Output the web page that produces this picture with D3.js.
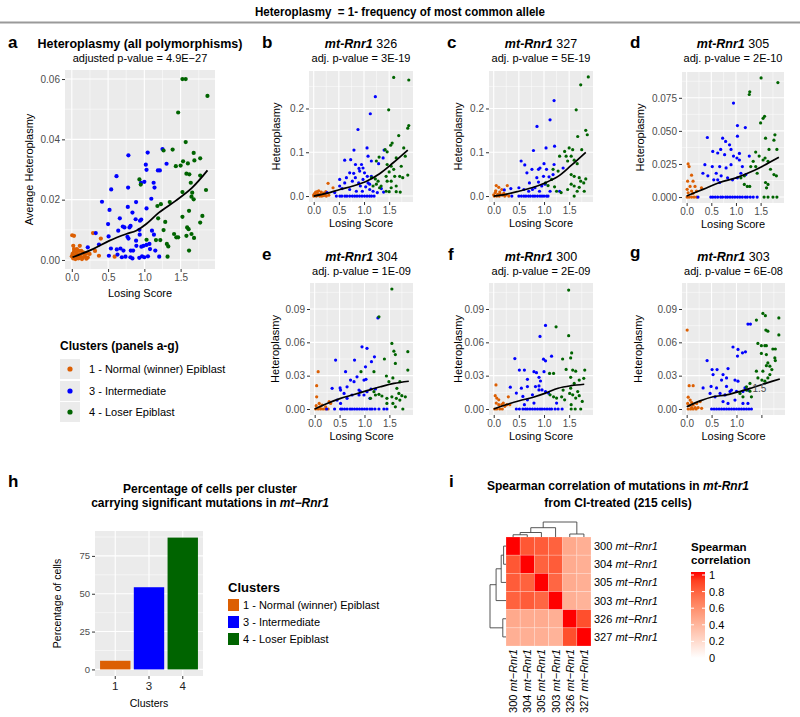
<!DOCTYPE html>
<html>
<head>
<meta charset="utf-8">
<script src="https://cdn.jsdelivr.net/npm/d3@7"></script>
<style>
  body { margin: 0; background: #fff; }
  text { font-family: "Liberation Sans", Arial, sans-serif; }
</style>
</head>
<body>
<script>
// ---- data ----
const clusterNames = ["1 - Normal (winner) Epiblast", "3 - Intermediate", "4 - Loser Epiblast"];
const clusterColors = ["#DC5F03", "#0000FF", "#006400"];

// panel a : all polymorphisms  [losing score, heteroplasmy]
const aOrange = [[0.005,.0082],[0.03,.008],[0.292,.0089],[0.4,.0071],[0.02,.0047],[0.11,.0047],[0.03,.0036],[0.07,.0036],[0.1,.003],[0.13,.003],[0.155,.0025],[0.2,.0022],[0.245,.002],[0.374,.0014],[0.59,.0011],[0.32,.003],[0.01,.002],[0.04,.0015],[0.06,.001],[0.08,.0018],[0.12,.0012],[0.15,.0008],[0.18,.0012],[0.22,.0008],[0.02,.0005],[0.05,.0003],[0.09,.0005],[0.14,.0003],[0.0,.0012],[0.06,.0025],[0.1,.0016],[0.17,.002],[0.03,.0028],[0.2,.0004]];
const aBlue = [[0.78,.0347],[1.046,.0356],[1.25,.0368],[1.306,.0319],[1.02,.0316],[1.03,.0299],[1.187,.0297],[1.214,.0297],[0.616,.0278],[0.543,.0234],[0.776,.024],[0.954,.0256],[1.0,.0259],[1.128,.0256],[1.14,.024],[0.416,.0193],[1.096,.0203],[0.52,.0166],[0.772,.0176],[0.886,.0192],[0.836,.0157],[1.03,.0171],[0.662,.0138],[0.88,.0135],[0.94,.013],[0.957,.0134],[0.5,.0119],[0.703,.0111],[0.726,.0108],[0.795,.0108],[0.81,.0113],[0.64,.0097],[0.932,.01],[1.105,.0097],[1.132,.0084],[0.33,.0089],[0.507,.0078],[0.767,.0077],[0.781,.0071],[0.936,.0084],[0.886,.0064],[0.99,.0047],[1.03,.005],[1.07,.0053],[0.959,.0044],[1.078,.0036],[0.374,.0051],[0.539,.0038],[0.62,.0035],[0.671,.0038],[0.712,.0031],[0.813,.0031],[0.845,.0031],[0.89,.0047],[1.151,.0031],[0.511,.0014],[0.63,.0018],[0.69,.0009],[0.74,.0011],[0.808,.0009],[0.836,.0005],[0.93,.0007],[0.968,.0012],[1.0,.0009],[1.05,.0012],[1.205,.0011],[0.22,.0042]];
const aGreen = [[1.525,.060],[1.57,.060],[1.87,.0544],[1.466,.0489],[1.57,.0391],[1.265,.0363],[1.39,.0366],[1.68,.0355],[1.534,.0327],[1.6,.032],[1.5,.0313],[1.434,.0311],[1.69,.033],[1.77,.0337],[1.58,.0286],[1.62,.0284],[1.77,.028],[0.932,.0267],[0.95,.025],[1.64,.0256],[1.85,.0232],[1.525,.0225],[1.66,.0223],[1.65,.021],[1.68,.0201],[1.228,.0185],[1.18,.0179],[1.35,.0192],[1.616,.0163],[1.8,.0146],[1.19,.0138],[1.288,.0126],[1.525,.0143],[1.77,.0124],[1.59,.0108],[1.61,.0102],[1.265,.0099],[1.41,.0086],[1.44,.0075],[1.466,.0075],[1.58,.008],[1.65,.0086],[1.685,.0073],[1.03,.0067],[1.16,.0066],[1.22,.0066],[1.31,.0053],[1.33,.0045],[1.616,.0031],[1.32,.0011]];
const aFit = [[0.01,.0009],[0.29,.0036],[0.52,.0064],[0.75,.0086],[0.886,.0097],[1.03,.012],[1.2,.0157],[1.43,.0196],[1.66,.024],[1.87,.0297]];

// panel b : mt-Rnr1 326
const bOrange = [[0.04,.009],[0.07,.01],[0.1,.012],[0.15,.009],[0.2,.007],[0.24,.01],[0.285,.029],[0.384,.019],[0.0,.003],[0.03,.002],[0.06,.001],[0.09,.002],[0.12,0],[0.16,0],[0.2,.001],[0.25,0],[0.3,.002],[0.02,.006],[0.13,.004],[0.18,.003],[0.0,0],[0.05,0],[0.08,.005],[0.22,.004]];
const bBlue = [[1.225,.227],[1.125,.188],[0.88,.152],[1.06,.11],[0.8,.105],[0.616,.082],[0.735,.083],[1.08,.091],[1.4,.105],[1.38,.087],[0.83,.072],[0.98,.064],[0.9,.063],[1.146,.08],[0.95,.072],[1.29,.074],[0.715,.053],[0.795,.052],[0.914,.057],[1.01,.053],[1.066,.045],[1.146,.045],[0.516,.038],[0.65,.042],[0.828,.042],[0.616,.03],[0.768,.034],[0.894,.03],[0.98,.038],[1.08,.03],[0.927,.023],[1.033,.021],[1.113,.027],[0.516,.023],[0.563,.017],[0.715,.015],[0.848,.011],[0.967,.011],[1.113,.015],[1.18,.011],[1.344,.017],[1.265,.008],[1.39,.009],[0.417,.008],[0.265,.008],[0.52,0],[0.56,0],[0.62,0],[0.66,0],[0.715,0],[0.768,0],[0.815,0],[0.86,0],[0.91,0],[0.96,0],[1.01,0],[1.06,0],[1.11,0],[1.15,0],[1.2,0],[0.45,0]];
const bGreen = [[1.59,.271],[1.89,.265],[1.49,.197],[1.89,.161],[1.87,.155],[1.69,.138],[1.56,.121],[1.53,.116],[1.42,.106],[1.46,.101],[1.79,.11],[1.82,.091],[1.245,.08],[1.3,.089],[1.64,.087],[1.59,.061],[1.54,.068],[1.46,.072],[1.74,.068],[1.87,.048],[1.71,.045],[1.77,.042],[1.61,.045],[1.54,.034],[1.64,.023],[1.46,.034],[1.225,.039],[1.28,.034],[1.18,.023],[1.245,.027],[1.31,.019],[1.44,.011],[1.5,.01],[1.64,.01],[1.72,.009],[1.54,.019],[1.34,.023],[1.44,.045],[1.5,.055],[1.15,.042]];
const bFit = [[0,0],[0.25,.006],[0.52,.015],[0.78,.023],[1.05,.034],[1.31,.051],[1.58,.076],[1.87,.105]];

// panel c : mt-Rnr1 327
const cOrange = [[0.05,.024],[0.1,.02],[0.16,.015],[0.27,.024],[0.03,.008],[0.08,.004],[0.13,.004],[0.17,.002],[0.22,0],[0.01,0],[0.06,0],[0.11,0],[0.3,0],[0.04,.012],[0.12,.009],[0.2,.006],[0.25,.003],[0.0,.003]];
const cBlue = [[1.2,.218],[1.12,.174],[0.86,.159],[1.04,.11],[0.79,.104],[1.21,.114],[0.545,.08],[0.617,.071],[0.66,.053],[0.76,.061],[0.92,.064],[0.89,.061],[1.0,.074],[1.05,.061],[1.2,.072],[1.38,.064],[0.857,.042],[0.99,.045],[1.1,.044],[1.18,.049],[0.71,.03],[0.89,.032],[1.02,.027],[0.5,.019],[0.82,.019],[0.955,.023],[0.6,.015],[0.695,.011],[0.77,.015],[0.91,.011],[1.12,.011],[1.31,.011],[0.34,.017],[0.21,.014],[0.5,0],[0.55,0],[0.6,0],[0.64,0],[0.69,0],[0.73,0],[0.78,0],[0.82,0],[0.87,0],[0.92,0],[0.96,0],[1.0,0],[1.05,0],[1.08,0],[0.36,0]];
const cGreen = [[1.88,.272],[1.73,.254],[1.64,.197],[1.83,.15],[1.86,.14],[1.67,.136],[1.5,.11],[1.57,.106],[1.41,.102],[1.75,.106],[1.31,.091],[1.44,.091],[1.54,.091],[1.47,.08],[1.6,.082],[1.66,.074],[1.18,.061],[1.28,.057],[1.54,.049],[1.6,.045],[1.7,.042],[1.83,.039],[1.73,.034],[1.79,.03],[1.15,.038],[1.03,.03],[1.08,.024],[1.21,.021],[1.25,.011],[1.47,.015],[1.6,.023],[1.54,.027],[1.7,.02],[1.6,0],[1.34,.008],[1.8,.011],[1.66,.011]];
const cFit = [[0,0],[0.24,.004],[0.5,.011],[0.76,.019],[1.02,.03],[1.28,.045],[1.54,.07],[1.83,.1]];

// panel d : mt-Rnr1 305
const dOrange = [[0.03,.025],[0.05,.023],[0.1,.0165],[0.02,.012],[0.13,.012],[0.07,.008],[0.17,.008],[0.3,.007],[0.01,.0058],[0.1,.0045],[0.2,.0045],[0.03,.0032],[0.13,.0028],[0.01,0],[0.05,0],[0.1,0],[0.15,0],[0.2,0]];
const dBlue = [[0.95,.071],[1.03,.054],[1.19,.0525],[0.73,.0445],[0.42,.045],[0.79,.042],[1.03,.046],[0.87,.0395],[0.69,.036],[0.9,.036],[0.53,.0345],[0.63,.0333],[0.77,.032],[1.07,.033],[0.95,.031],[1.02,.0295],[1.07,.028],[1.27,.031],[0.37,.0245],[0.52,.023],[0.67,.023],[0.8,.022],[0.9,.0245],[1.13,.023],[0.33,.018],[0.43,.016],[0.6,.018],[0.63,.013],[0.7,.016],[0.83,.0145],[0.93,.013],[1.03,.0145],[1.1,.018],[1.2,.017],[0.55,.013],[0.67,.011],[0.49,0],[0.53,0],[0.58,0],[0.63,0],[0.69,0],[0.73,0],[0.79,0],[0.83,0],[0.88,0],[0.93,0],[0.98,0],[1.03,0],[1.08,0],[1.13,0],[1.19,0],[1.23,0],[1.29,0],[1.35,0],[1.43,0],[0.23,0]];
const dGreen = [[1.51,.09],[1.85,.0865],[1.28,.0795],[1.27,.0775],[1.58,.061],[1.55,.0595],[1.5,.056],[1.79,.047],[1.77,.043],[1.6,.0445],[1.67,.036],[1.83,.036],[1.4,.034],[1.47,.031],[1.55,.028],[1.65,.027],[1.59,.0295],[1.35,.027],[1.3,.023],[1.4,.023],[1.7,.021],[1.77,.017],[1.82,.016],[1.43,.018],[1.17,.0095],[1.23,.008],[1.28,.008],[1.6,.011],[1.65,.0095],[1.62,.007],[1.57,0],[1.75,0],[1.65,0],[1.83,0],[1.1,.0145],[1.17,.016]];
const dFit = [[0,.0008],[0.33,.0058],[0.67,.011],[1.0,.0145],[1.33,.0195],[1.6,.0245],[1.87,.03]];

// panel e : mt-Rnr1 304
const eOrange = [[0.07,.0336],[0.04,.021],[0.04,.011],[0.09,.005],[0.15,.0036],[0.22,.002],[0.29,.0066],[0.32,.005],[0.02,0],[0.07,0],[0.12,0],[0.17,0],[0.22,0],[0.27,0],[0.03,.003],[0.11,.002]];
const eBlue = [[1.27,.082],[0.95,.056],[1.05,.0546],[1.2,.047],[1.14,.0426],[0.42,.044],[0.8,.044],[1.02,.038],[0.99,.026],[1.03,.0267],[0.62,.0336],[0.85,.029],[0.72,.026],[0.79,.0246],[0.65,.02],[0.51,.019],[0.52,.017],[0.35,.0186],[0.89,.017],[0.92,.0156],[1.13,.018],[1.22,.018],[0.59,.014],[0.75,.0126],[0.89,.0126],[0.99,.0126],[1.05,.0156],[1.11,.0096],[0.45,.008],[0.52,.005],[0.65,.0096],[0.24,0],[0.4,0],[0.52,0],[0.55,0],[0.6,0],[0.65,0],[0.71,0],[0.75,0],[0.8,0],[0.85,0],[0.9,0],[0.95,0],[1.0,0],[1.05,0],[1.11,0],[1.15,0],[1.21,0],[1.29,0],[1.39,0],[1.45,0]];
const eGreen = [[1.55,.108],[1.29,.083],[1.55,.059],[1.59,.052],[1.62,.049],[1.4,.045],[1.62,.041],[1.87,.0516],[0.93,.0336],[1.19,.0336],[1.44,.0297],[1.57,.028],[1.71,.0246],[1.49,.0246],[1.87,.035],[1.65,.0186],[1.69,.014],[1.75,.012],[1.82,.011],[1.19,.0156],[1.22,.0126],[1.29,.0132],[1.35,.0117],[1.12,.0096],[1.45,.0096],[1.55,.011],[1.64,.0096],[1.71,.008],[1.45,.005],[1.57,.005],[1.77,0],[1.62,.002]];
const eFit = [[0,0],[0.25,.005],[0.52,.0096],[0.79,.013],[1.05,.0165],[1.32,.02],[1.59,.023],[1.89,.025]];

// panel f : mt-Rnr1 300
const fOrange = [[0.045,.0217],[0.03,.012],[0.06,.0098],[0.1,.0083],[0.29,.011],[0.05,.0053],[0.1,.0039],[0.16,.0039],[0.19,.0053],[0.22,.0024],[0.26,.0039],[0.32,.0039],[0.02,0],[0.06,0],[0.12,0],[0.17,0]];
const fBlue = [[1.03,.0752],[0.92,.0653],[0.42,.0454],[0.99,.0448],[1.03,.0434],[1.15,.0475],[0.51,.035],[0.61,.035],[0.8,.0336],[0.85,.0327],[1.0,.0336],[0.67,.0267],[0.9,.0285],[0.93,.0252],[0.33,.0196],[0.55,.0187],[0.67,.0202],[0.83,.0202],[0.9,.0208],[0.45,.0143],[0.58,.0113],[0.77,.0128],[0.9,.0172],[0.96,.0172],[1.03,.0157],[1.09,.0143],[0.67,.0083],[0.8,.0053],[0.61,.0039],[1.25,.0053],[0.45,0],[0.51,0],[0.58,0],[0.63,0],[0.67,0],[0.72,0],[0.77,0],[0.82,0],[0.87,0],[0.92,0],[0.96,0],[1.01,0],[1.06,0],[1.11,0],[1.15,0],[1.22,0],[1.28,0],[1.36,0]];
const fGreen = [[1.49,.107],[1.24,.074],[1.49,.066],[1.55,.0505],[1.53,.046],[1.37,.045],[1.44,.0356],[1.57,.035],[1.81,.035],[1.63,.034],[1.19,.032],[1.11,.032],[1.53,.0285],[1.7,.026],[1.79,.0276],[1.6,.023],[1.53,.0187],[1.38,.017],[1.51,.014],[1.67,.0157],[1.12,.0128],[1.19,.011],[1.25,.0098],[1.35,.011],[1.41,.0083],[1.57,.0128],[1.63,.0098],[1.7,.012],[1.76,.0068],[1.54,.0039],[1.62,0],[1.73,0],[1.54,0]];
const fFit = [[0,0],[0.26,.004],[0.51,.0074],[0.77,.0104],[1.03,.0143],[1.28,.0187],[1.54,.021],[1.8,.0223]];

// panel g : mt-Rnr1 303
const gOrange = [[0.01,.071],[0.05,.021],[0.13,.021],[0.03,.0106],[0.07,.008],[0.1,.0058],[0.13,.0036],[0.2,.005],[0.27,.0067],[0.02,.005],[0.05,.003],[0.1,.0012],[0.17,.0012],[0.23,.0012],[0.3,.0006],[0.03,0],[0.08,0],[0.13,0],[0.19,0]];
const gBlue = [[1.23,.0764],[1.28,.0764],[0.93,.0558],[1.03,.0536],[1.12,.0506],[1.18,.0515],[1.02,.0476],[0.41,.0436],[0.51,.0355],[0.61,.0355],[0.83,.0364],[0.53,.031],[0.73,.031],[0.8,.028],[0.7,.026],[0.97,.026],[1.03,.025],[0.33,.019],[0.49,.0203],[0.6,.019],[0.8,.0203],[0.9,.017],[0.47,.014],[0.57,.011],[0.67,.014],[0.77,.0127],[0.87,.0158],[1.0,.0158],[1.13,.0158],[1.17,.019],[1.23,.017],[0.73,.0067],[0.97,.008],[1.13,.005],[1.23,.005],[0.83,.005],[0.5,0],[0.55,0],[0.6,0],[0.65,0],[0.7,0],[0.75,0],[0.8,0],[0.85,0],[0.9,0],[0.95,0],[1.0,0],[1.05,0],[1.1,0],[1.15,0],[1.2,0],[1.25,0],[1.3,0]];
const gGreen = [[1.53,.086],[1.58,.084],[1.4,.08],[1.85,.082],[1.59,.071],[1.63,.070],[1.85,.0667],[1.43,.059],[1.5,.057],[1.57,.057],[1.6,.057],[1.73,.054],[1.78,.054],[1.5,.05],[1.6,.049],[1.77,.046],[1.78,.0436],[1.63,.0415],[1.6,.039],[1.67,.0385],[1.71,.0355],[1.4,.034],[1.53,.034],[1.67,.031],[1.43,.028],[1.51,.026],[1.57,.025],[1.63,.028],[1.27,.023],[1.2,.020],[1.2,.017],[1.27,.016],[1.3,.011],[1.07,.014],[1.13,.011]];
const gFit = [[0,.002],[0.27,.0073],[0.53,.011],[0.8,.0127],[1.07,.0158],[1.33,.0194],[1.6,.0233],[1.87,.027]];

const xTicks = [0, 0.5, 1, 1.5];

// panel h
const barClusters = ["1", "3", "4"];
const barPct = [5.7, 54.3, 87.1];
const barTicks = [0, 25, 50, 75];

// panel i
const corrLabels = ["300", "304", "305", "303", "326", "327"];
const corrMatrix = [
  [1.00, 0.82, 0.80, 0.78, 0.45, 0.42],
  [0.82, 1.00, 0.78, 0.80, 0.44, 0.42],
  [0.80, 0.78, 1.00, 0.76, 0.44, 0.42],
  [0.78, 0.80, 0.76, 1.00, 0.42, 0.40],
  [0.45, 0.44, 0.44, 0.42, 1.00, 0.85],
  [0.42, 0.42, 0.42, 0.40, 0.85, 1.00]
];
const corrTree = {h: 1, c: [{h: 0.62, c: [{h: 0.3, c: [{h: 0.15, c: ["300", "304"]}, "305"]}, "303"]}, {h: 0.2, c: ["326", "327"]}]};
const corrTicks = [0, 0.2, 0.4, 0.6, 0.8, 1];

// ---- drawing ----
const svg = d3.select("body").append("svg").attr("width", 800).attr("height", 717);
const TXT = "#4d4d4d";

function richText(x, y, parts, size, anchor) {
  const t = svg.append("text").attr("x", x).attr("y", y)
    .attr("font-size", size).attr("text-anchor", anchor || "middle");
  parts.forEach(p => t.append("tspan").text(p.t)
    .attr("font-weight", p.b ? "bold" : "normal")
    .attr("font-style", p.i ? "italic" : "normal"));
  return t;
}
function plain(x, y, s, size, opts) {
  opts = opts || {};
  return svg.append("text").attr("x", x).attr("y", y).text(s)
    .attr("font-size", size).attr("text-anchor", opts.anchor || "start")
    .attr("font-weight", opts.bold ? "bold" : "normal")
    .attr("fill", opts.fill || "#000");
}

// header
plain(400, 16, "Heteroplasmy  = 1- frequency of most common allele", 13, {anchor: "middle", bold: true})
  .style("white-space", "pre").attr("textLength", 290).attr("lengthAdjust", "spacingAndGlyphs");
svg.append("line").attr("x1", 0).attr("x2", 800).attr("y1", 22.5).attr("y2", 22.5)
  .attr("stroke", "#9a9a9a").attr("stroke-width", 2);

const row1 = {top: 71, bottom: 202, tY: 48, sY: 62};
const row2 = {top: 283, bottom: 415, tY: 261, sY: 275};
const rnr = (n) => [{t: "mt-Rnr1", b: true, i: true}, {t: " " + n}];

const scatterPanels = [
  {lab: "a", lx: 8, ly: 48, pts: [aOrange, aBlue, aGreen], fit: aFit, left: 65, right: 215, top: 70, bottom: 269, tY: 48, sY: 62,
   title: [{t: "Heteroplasmy (all polymorphisms)", b: true}], sub: "adjusted p-value = 4.9E\u221227",
   yMax: 0.06, yTicks: [0, 0.02, 0.04, 0.06], fmt: ".2f", yTitle: "Average Heteroplasmy", yTx: 33, r: 2.1, lw: 1.8, xTitleOff: 28},
  {lab: "b", lx: 262, ly: 48, pts: [bOrange, bBlue, bGreen], fit: bFit, left: 309, right: 413, ...row1,
   title: rnr(326), sub: "adj. p-value = 3E-19", yMax: 0.272, yTicks: [0, 0.1, 0.2], fmt: ".1f", yTitle: "Heteroplasmy", yTx: 280},
  {lab: "c", lx: 447, ly: 48, pts: [cOrange, cBlue, cGreen], fit: cFit, left: 489, right: 593, ...row1,
   title: rnr(327), sub: "adj. p-value = 5E-19", yMax: 0.272, yTicks: [0, 0.1, 0.2], fmt: ".1f", yTitle: "Heteroplasmy", yTx: 462},
  {lab: "d", lx: 630, ly: 48, pts: [dOrange, dBlue, dGreen], fit: dFit, left: 682, right: 784, top: 72, bottom: 203, tY: 48, sY: 62,
   title: rnr(305), sub: "adj. p-value = 2E-10", yMax: 0.09, yTicks: [0, 0.025, 0.05, 0.075], fmt: ".3f", yTitle: "Heteroplasmy", yTx: 644},
  {lab: "e", lx: 262, ly: 260, pts: [eOrange, eBlue, eGreen], fit: eFit, left: 310, right: 413, ...row2,
   title: rnr(304), sub: "adj. p-value = 1E-09", yMax: 0.108, yTicks: [0, 0.03, 0.06, 0.09], fmt: ".2f", yTitle: "Heteroplasmy", yTx: 279},
  {lab: "f", lx: 448, ly: 260, pts: [fOrange, fBlue, fGreen], fit: fFit, left: 489, right: 593, ...row2,
   title: rnr(300), sub: "adj. p-value = 2E-09", yMax: 0.108, yTicks: [0, 0.03, 0.06, 0.09], fmt: ".2f", yTitle: "Heteroplasmy", yTx: 462},
  {lab: "g", lx: 630, ly: 258, pts: [gOrange, gBlue, gGreen], fit: gFit, left: 682, right: 785, ...row2,
   title: rnr(303), sub: "adj. p-value = 6E-08", yMax: 0.108, yTicks: [0, 0.03, 0.06, 0.09], fmt: ".2f", yTitle: "Heteroplasmy", yTx: 642,
   hideX: [1.5]}
];

function drawScatter(p) {
  const x = d3.scaleLinear().domain([-0.094, 1.974]).range([p.left, p.right]);
  const y = d3.scaleLinear().domain([-0.05 * p.yMax, 1.05 * p.yMax]).range([p.bottom, p.top]);
  const g = svg.append("g");
  g.append("rect").attr("x", p.left).attr("y", p.top)
    .attr("width", p.right - p.left).attr("height", p.bottom - p.top).attr("fill", "#ebebeb");

  const step = p.yTicks[1] - p.yTicks[0];
  const yMinor = p.yTicks.map(t => t + step / 2).filter(t => t < y.domain()[1]);
  const xMinor = xTicks.map(t => t + 0.25).filter(t => t < x.domain()[1]);
  const grid = (vals, w, horiz) => g.selectAll(null).data(vals).join("line")
    .attr("x1", d => horiz ? p.left : x(d)).attr("x2", d => horiz ? p.right : x(d))
    .attr("y1", d => horiz ? y(d) : p.top).attr("y2", d => horiz ? y(d) : p.bottom)
    .attr("stroke", "#fff").attr("stroke-width", w);
  grid(yMinor, 0.5, true); grid(xMinor, 0.5, false);
  grid(p.yTicks, 1.1, true); grid(xTicks, 1.1, false);

  p.pts.forEach((arr, i) => {
    g.selectAll(null).data(arr).join("circle")
      .attr("cx", d => x(d[0])).attr("cy", d => y(d[1]))
      .attr("r", p.r || 1.6).attr("fill", clusterColors[i]);
  });
  g.append("path").datum(p.fit)
    .attr("d", d3.line().x(d => x(d[0])).y(d => y(d[1])).curve(d3.curveCatmullRom))
    .attr("fill", "none").attr("stroke", "#000").attr("stroke-width", p.lw || 1.7);

  const ya = g.append("g").attr("transform", `translate(${p.left},0)`)
    .call(d3.axisLeft(y).tickValues(p.yTicks).tickFormat(d3.format(p.fmt)).tickSize(3).tickPadding(2));
  const hide = p.hideX || [];
  const xa = g.append("g").attr("transform", `translate(0,${p.bottom})`)
    .call(d3.axisBottom(x).tickValues(xTicks).tickFormat(d => hide.includes(d) ? "" : d3.format(".1f")(d)).tickSize(3).tickPadding(2));
  [ya, xa].forEach(a => {
    a.select(".domain").remove();
    a.selectAll(".tick line").attr("stroke", "#333");
    a.selectAll(".tick text").attr("fill", TXT).attr("font-size", 10);
  });
  if (hide.length) {
    // the 1.5 label sits inside the panel in the original figure
    plain(x(1.5) - 2, y(0.0153), "1.5", 10, {anchor: "middle", fill: TXT});
  }

  plain(p.lx, p.ly, p.lab, 17, {bold: true});
  richText((p.left + p.right) / 2, p.tY, p.title, 12.5);
  plain((p.left + p.right) / 2, p.sY, p.sub, 11, {anchor: "middle"});
  plain((p.left + p.right) / 2, p.bottom + (p.xTitleOff || 25), "Losing Score", 11, {anchor: "middle"});
  svg.append("text").attr("transform", `translate(${p.yTx},${(p.top + p.bottom) / 2}) rotate(-90)`)
    .attr("text-anchor", "middle").attr("font-size", 11).text(p.yTitle);
}
scatterPanels.forEach(drawScatter);

// legend for panels a-g
plain(60, 350, "Clusters (panels a-g)", 12, {bold: true});
const legY = [369, 391, 412];
clusterNames.forEach((n, i) => {
  svg.append("rect").attr("x", 60).attr("y", legY[i] - 10).attr("width", 20).attr("height", 20).attr("fill", "#ebebeb");
  svg.append("circle").attr("cx", 70).attr("cy", legY[i]).attr("r", 2.6).attr("fill", clusterColors[i]);
  plain(89, legY[i] + 4, n, 11);
});

// ---- panel h ----
{
  const L = 95, R = 203, T = 531, B = 676;
  const x = d3.scaleBand().domain(barClusters).range([L, R]).paddingInner(0.1).paddingOuter(0.15);
  const y = d3.scaleLinear().domain([-0.05 * d3.max(barPct), 1.05 * d3.max(barPct)]).range([B, T]);
  const g = svg.append("g");
  g.append("rect").attr("x", L).attr("y", T).attr("width", R - L).attr("height", B - T).attr("fill", "#ebebeb");
  const minor = barTicks.map(t => t + 12.5).filter(t => t < y.domain()[1]);
  g.selectAll(null).data(minor).join("line").attr("x1", L).attr("x2", R)
    .attr("y1", d => y(d)).attr("y2", d => y(d)).attr("stroke", "#fff").attr("stroke-width", 0.5);
  g.selectAll(null).data(barTicks).join("line").attr("x1", L).attr("x2", R)
    .attr("y1", d => y(d)).attr("y2", d => y(d)).attr("stroke", "#fff").attr("stroke-width", 1.1);
  g.selectAll(null).data(barClusters).join("line")
    .attr("x1", d => x(d) + x.bandwidth() / 2).attr("x2", d => x(d) + x.bandwidth() / 2)
    .attr("y1", T).attr("y2", B).attr("stroke", "#fff").attr("stroke-width", 1.1);
  g.selectAll(null).data(barClusters).join("rect")
    .attr("x", d => x(d)).attr("width", x.bandwidth())
    .attr("y", (d, i) => y(barPct[i])).attr("height", (d, i) => y(0) - y(barPct[i]))
    .attr("fill", (d, i) => clusterColors[i]);
  const ya = g.append("g").attr("transform", `translate(${L},0)`)
    .call(d3.axisLeft(y).tickValues(barTicks).tickSize(3).tickPadding(2));
  const xa = g.append("g").attr("transform", `translate(0,${B})`)
    .call(d3.axisBottom(x).tickSize(3).tickPadding(3));
  [ya, xa].forEach(a => {
    a.select(".domain").remove();
    a.selectAll(".tick line").attr("stroke", "#333");
    a.selectAll(".tick text").attr("fill", TXT).attr("font-size", 9.5);
  });
  xa.selectAll(".tick text").attr("font-size", 11.5).attr("fill", "#222");
  plain(149, 707, "Clusters", 10.5, {anchor: "middle"});
  svg.append("text").attr("transform", `translate(61,${(T + B) / 2}) rotate(-90)`)
    .attr("text-anchor", "middle").attr("font-size", 10.5).text("Percentage of cells");
  plain(8, 487, "h", 17, {bold: true});
  plain(210, 493, "Percentage of cells per cluster", 12, {anchor: "middle", bold: true});
  richText(210, 507, [{t: "carrying significant mutations in ", b: true}, {t: "mt\u2212Rnr1", b: true, i: true}], 12);

  plain(228, 592, "Clusters", 13, {bold: true});
  const ky = [605, 622, 639];
  clusterNames.forEach((n, i) => {
    svg.append("rect").attr("x", 228).attr("y", ky[i] - 6).attr("width", 11).attr("height", 12).attr("fill", clusterColors[i]);
    plain(243, ky[i] + 4, n, 11);
  });
}

// ---- panel i ----
{
  const L = 506, R = 591, T = 537, B = 646;
  const cx = d3.scaleBand().domain(corrLabels).range([L, R]);
  const cy = d3.scaleBand().domain(corrLabels).range([T, B]);
  const col = d3.scaleLinear().domain([0, 1]).range(["#ffffff", "#ff0000"]).interpolate(d3.interpolateLab);
  const g = svg.append("g");
  corrMatrix.forEach((row, i) => row.forEach((v, j) => {
    g.append("rect").attr("x", cx(corrLabels[j])).attr("y", cy(corrLabels[i]))
      .attr("width", cx.bandwidth()).attr("height", cy.bandwidth())
      .attr("fill", col(v)).attr("stroke", "rgba(255,255,255,0.35)").attr("stroke-width", 0.6);
  }));

  // dendrograms (same clustering for rows and columns)
  function layout(node) {
    if (typeof node === "string") return {pos: corrLabels.indexOf(node), h: 0};
    const kids = node.c.map(layout);
    return {pos: d3.mean(kids, k => k.pos), h: node.h, kids};
  }
  const tree = layout(corrTree);
  const colPos = p => L + (p + 0.5) * cx.step();
  const rowPos = p => T + (p + 0.5) * cy.step();
  const dg = g.append("g").attr("stroke", "#444").attr("stroke-width", 0.9);
  const h = d3.scaleLinear().domain([0, 1]).range([T, T - 15]);
  (function walk(n) {
    if (!n.kids) return;
    n.kids.forEach(k => {
      dg.append("line").attr("x1", colPos(k.pos)).attr("x2", colPos(k.pos)).attr("y1", h(k.h)).attr("y2", h(n.h));
      walk(k);
    });
    dg.append("line").attr("x1", colPos(n.kids[0].pos)).attr("x2", colPos(n.kids[1].pos)).attr("y1", h(n.h)).attr("y2", h(n.h));
  })(tree);
  const w = d3.scaleLinear().domain([0, 1]).range([L, L - 16]);
  (function walk(n) {
    if (!n.kids) return;
    n.kids.forEach(k => {
      dg.append("line").attr("y1", rowPos(k.pos)).attr("y2", rowPos(k.pos)).attr("x1", w(k.h)).attr("x2", w(n.h));
      walk(k);
    });
    dg.append("line").attr("y1", rowPos(n.kids[0].pos)).attr("y2", rowPos(n.kids[1].pos)).attr("x1", w(n.h)).attr("x2", w(n.h));
  })(tree);

  corrLabels.forEach(lbl => {
    richText(R + 3, cy(lbl) + cy.bandwidth() / 2 + 4, [{t: lbl + " "}, {t: "mt\u2212Rnr1", i: true}], 11, "start");
    const t = svg.append("text").attr("transform", `translate(${cx(lbl) + cx.bandwidth() / 2 + 4},${B + 3}) rotate(-90)`)
      .attr("text-anchor", "end").attr("font-size", 11);
    t.append("tspan").text(lbl + " ");
    t.append("tspan").text("mt\u2212Rnr1").attr("font-style", "italic");
  });

  plain(449, 487, "i", 17, {bold: true});
  richText(618, 490, [{t: "Spearman correlation of mutations in ", b: true}, {t: "mt-Rnr1", b: true, i: true}], 12);
  plain(618, 507, "from CI-treated (215 cells)", 12, {anchor: "middle", bold: true});

  // colour bar
  const defs = svg.append("defs");
  const grad = defs.append("linearGradient").attr("id", "corrGrad").attr("x1", 0).attr("x2", 0).attr("y1", 1).attr("y2", 0);
  d3.range(0, 1.01, 0.1).forEach(v => grad.append("stop").attr("offset", v).attr("stop-color", col(v)));
  const cb = d3.scaleLinear().domain([0, 1]).range([658, 575]);
  svg.append("rect").attr("x", 691).attr("y", 572).attr("width", 14).attr("height", 86).attr("fill", "url(#corrGrad)");
  corrTicks.forEach(v => {
    svg.append("line").attr("x1", 691).attr("x2", 694).attr("y1", cb(v)).attr("y2", cb(v)).attr("stroke", "#fff");
    svg.append("line").attr("x1", 702).attr("x2", 705).attr("y1", cb(v)).attr("y2", cb(v)).attr("stroke", "#fff");
    plain(709, cb(v) + 4, String(v), 11);
  });
  plain(691, 551, "Spearman", 11.5, {bold: true});
  plain(691, 564, "correlation", 11.5, {bold: true});
}
</script>
</body>
</html>
